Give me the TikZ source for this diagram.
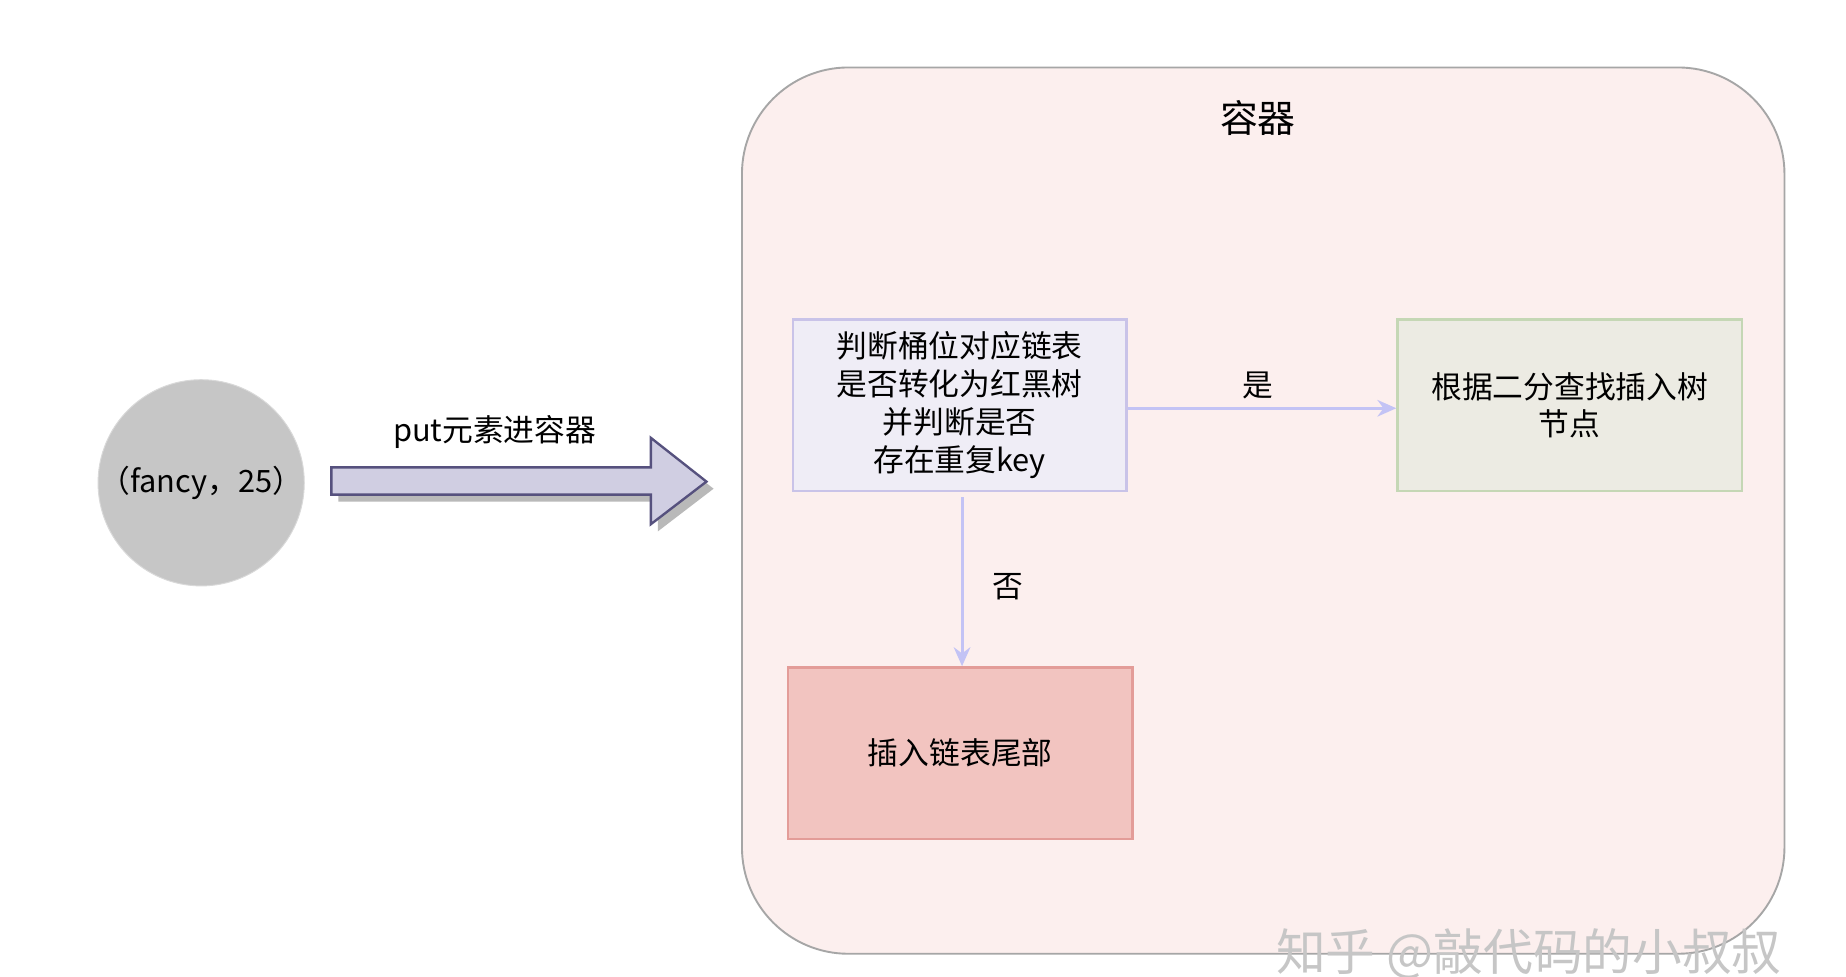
\documentclass[tikz,border=0pt]{standalone}
\usepackage{fontspec}
\setmainfont{Noto Sans CJK SC}
\usetikzlibrary{arrows.meta}
\definecolor{contfill}{HTML}{FCEFEE}
\definecolor{b1fill}{HTML}{EFEDF6}
\definecolor{b1line}{HTML}{C9C3E8}
\definecolor{b2fill}{HTML}{ECEBE3}
\definecolor{b2line}{HTML}{C5D7B5}
\definecolor{b3fill}{HTML}{F2C4C0}
\definecolor{b3line}{HTML}{E39C98}
\definecolor{arr}{HTML}{C3C3F5}
\definecolor{bigfill}{HTML}{D0CEE2}
\definecolor{bigline}{HTML}{56517E}
\tikzset{
  x=0.5pt,y=-0.5pt,
  boxstyle/.style={draw, line width=1pt, minimum width=141pt, minimum height=72.5pt, align=center, font=\fontsize{13}{16}\selectfont},
  lbl/.style={font=\fontsize{13}{16}\selectfont},
  conn/.style={draw=arr, line width=1.3pt, -{Stealth[length=8pt,width=7pt]}}
}
\begin{document}
\begin{tikzpicture}
\useasboundingbox (0,0) rectangle (1560,825);
\fill[white] (0,0) rectangle (1560,825);
\node[draw=gray!70, line width=0.8pt, fill=contfill, rounded corners=45pt, minimum width=440.5pt, minimum height=374.5pt, inner sep=0pt] (cont) at (1067.5,431.5) {};
\node[font=\fontsize{16}{19}\selectfont] (title) at (1063,100) {容器};
\node[circle, fill=gray!45, draw=gray!30, minimum size=85pt, inner sep=0pt, lbl] (el) at (170,408) {（fancy，25）};
\fill[gray!55] (286,401) -- (556,401) -- (556,376) -- (603,413) -- (556,449) -- (556,424) -- (286,424) -- cycle;
\draw[bigline, fill=bigfill, line width=1pt] (280,395) -- (550,395) -- (550,370) -- (597,407) -- (550,443) -- (550,418) -- (280,418) -- cycle;
\coordinate (bigtip) at (597,407);
\node[lbl] (putl) at (418,365) {put元素进容器};
\node[boxstyle, fill=b1fill, draw=b1line] (b1) at (811,342.5) {判断桶位对应链表\\是否转化为红黑树\\并判断是否\\存在重复key};
\node[boxstyle, fill=b2fill, draw=b2line, minimum width=145.5pt] (b2) at (1326.5,342.5) {根据二分查找插入树\\节点};
\node[boxstyle, fill=b3fill, draw=b3line, minimum width=145.5pt] (b3) at (811.5,636.5) {插入链表尾部};
\draw[conn] (b1.east |- 0,345) coordinate (s1) -- (b2.west |- s1);
\node[lbl] (yes) at (1063,326) {是};
\draw[conn] (813,420) coordinate (s2) -- (b3.north -| s2);
\node[lbl] (no) at (852,496) {否};
\node[text=gray!45, font=\fontsize{21}{24}\selectfont] (wm) at (1292,806) {知乎 @敲代码的小叔叔};
\end{tikzpicture}
\end{document}
